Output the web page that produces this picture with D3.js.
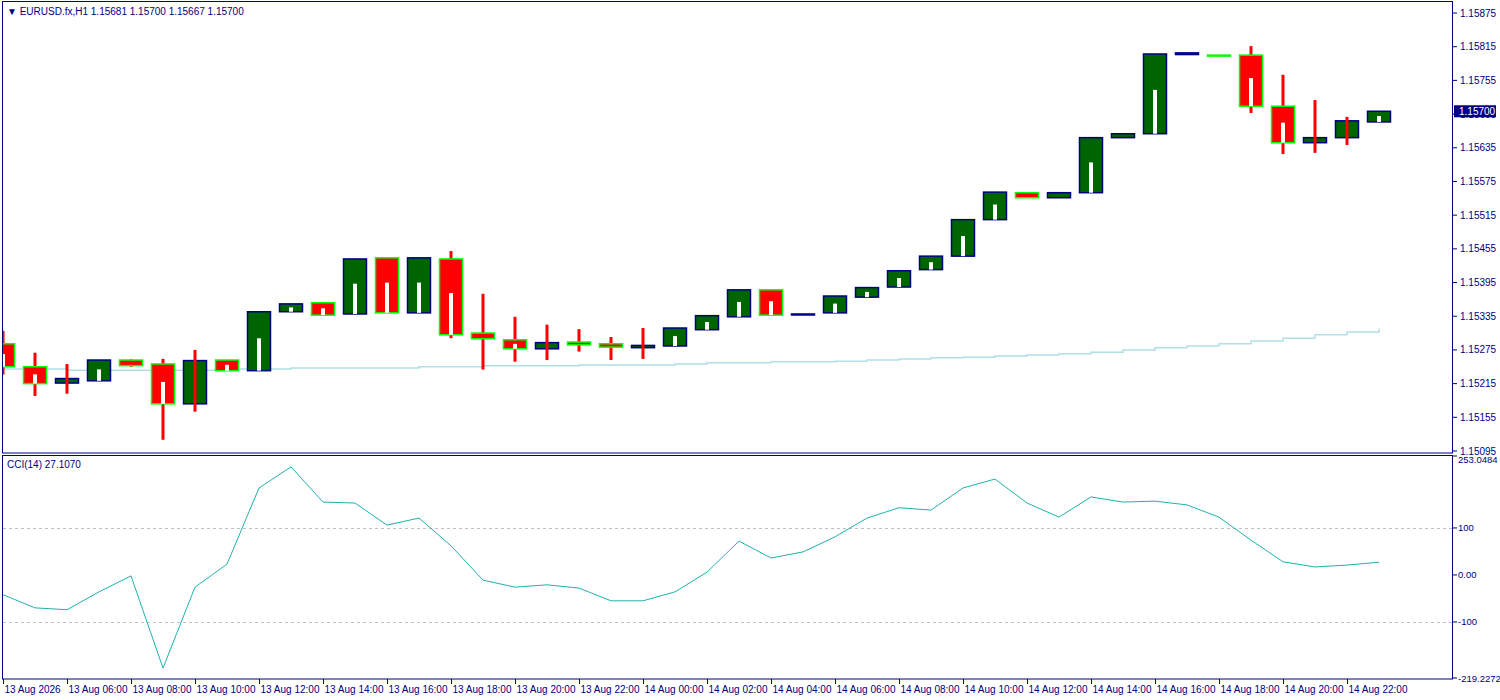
<!DOCTYPE html>
<html><head><meta charset="utf-8">
<script src="https://cdn.jsdelivr.net/npm/d3@7"></script>
<style>body{margin:0;background:#fff}svg text{font-family:"Liberation Sans",Arial,sans-serif;font-size:10px;fill:#000080}</style>
</head><body><svg id="c" width="1500" height="700"></svg>
<script>
const times=["13 Aug 04:00","13 Aug 05:00","13 Aug 06:00","13 Aug 07:00","13 Aug 08:00","13 Aug 09:00","13 Aug 10:00","13 Aug 11:00","13 Aug 12:00","13 Aug 13:00","13 Aug 14:00","13 Aug 15:00","13 Aug 16:00","13 Aug 17:00","13 Aug 18:00","13 Aug 19:00","13 Aug 20:00","13 Aug 21:00","13 Aug 22:00","13 Aug 23:00","14 Aug 00:00","14 Aug 01:00","14 Aug 02:00","14 Aug 03:00","14 Aug 04:00","14 Aug 05:00","14 Aug 06:00","14 Aug 07:00","14 Aug 08:00","14 Aug 09:00","14 Aug 10:00","14 Aug 11:00","14 Aug 12:00","14 Aug 13:00","14 Aug 14:00","14 Aug 15:00","14 Aug 16:00","14 Aug 17:00","14 Aug 18:00","14 Aug 19:00","14 Aug 20:00","14 Aug 21:00","14 Aug 22:00","14 Aug 23:00"];
const opens=[1.15286,1.15245,1.15216,1.15220,1.15257,1.15250,1.15179,1.15257,1.15238,1.15343,1.15359,1.15339,1.15439,1.15341,1.15437,1.15305,1.15293,1.15277,1.15289,1.15286,1.15279,1.15282,1.15311,1.15334,1.15382,1.15338,1.15341,1.15369,1.15387,1.15418,1.15442,1.15507,1.15555,1.15546,1.15555,1.15653,1.15660,1.15801,1.15800,1.15800,1.15709,1.15644,1.15653,1.15681];
const highs=[1.15309,1.15270,1.15250,1.15257,1.15258,1.15259,1.15275,1.15257,1.15343,1.15357,1.15359,1.15437,1.15439,1.15439,1.15451,1.15375,1.15334,1.15320,1.15312,1.15298,1.15314,1.15314,1.15336,1.15382,1.15382,1.15339,1.15371,1.15386,1.15416,1.15442,1.15507,1.15556,1.15555,1.15555,1.15653,1.15660,1.15802,1.15804,1.15800,1.15816,1.15765,1.15720,1.15690,1.15700];
const lows=[1.15231,1.15193,1.15197,1.15220,1.15245,1.15115,1.15165,1.15238,1.15238,1.15343,1.15337,1.15339,1.15341,1.15341,1.15296,1.15240,1.15254,1.15257,1.15272,1.15257,1.15259,1.15282,1.15311,1.15334,1.15337,1.15337,1.15341,1.15369,1.15387,1.15418,1.15442,1.15507,1.15546,1.15546,1.15555,1.15653,1.15660,1.15801,1.15799,1.15697,1.15624,1.15626,1.15640,1.15678];
const closes=[1.15245,1.15215,1.15224,1.15257,1.15247,1.15179,1.15256,1.15238,1.15343,1.15357,1.15337,1.15437,1.15341,1.15439,1.15302,1.15295,1.15277,1.15288,1.15284,1.15280,1.15283,1.15314,1.15336,1.15382,1.15337,1.15339,1.15371,1.15386,1.15416,1.15442,1.15507,1.15556,1.15546,1.15555,1.15653,1.15660,1.15802,1.15804,1.15799,1.15709,1.15644,1.15653,1.15683,1.15700];
const maValues=[1.15241,1.15241,1.15239,1.15239,1.15239,1.15239,1.15239,1.15241,1.15241,1.15243,1.15243,1.15243,1.15243,1.15245,1.15245,1.15247,1.15247,1.15247,1.15248,1.15248,1.15248,1.15250,1.15252,1.15252,1.15254,1.15254,1.15255,1.15257,1.15259,1.15261,1.15262,1.15264,1.15266,1.15268,1.15271,1.15275,1.15279,1.15282,1.15286,1.15291,1.15296,1.15302,1.15307,1.15313];
const cciValues=[-42,-70,-74,-36,-2,-198,-26,23,185,230,155,153,106,121,62,-11,-26,-21,-28,-55,-55,-36,6,72,36,49,81,121,143,138,185,204,153,123,166,155,157,149,123,74,28,17,21,27.107];
const priceTicks=[1.15095,1.15155,1.15215,1.15275,1.15335,1.15395,1.15455,1.15515,1.15575,1.15635,1.15695,1.15755,1.15815,1.15875];
const cciTicks=[[253.0484,"253.0484"],[100,"100"],[0,"0.00"],[-100,"-100"],[-219.2272,"-219.2272"]];
const dateLabels=["13 Aug 2026","13 Aug 06:00","13 Aug 08:00","13 Aug 10:00","13 Aug 12:00","13 Aug 14:00","13 Aug 16:00","13 Aug 18:00","13 Aug 20:00","13 Aug 22:00","14 Aug 00:00","14 Aug 02:00","14 Aug 04:00","14 Aug 06:00","14 Aug 08:00","14 Aug 10:00","14 Aug 12:00","14 Aug 14:00","14 Aug 16:00","14 Aug 18:00","14 Aug 20:00","14 Aug 22:00"];

const svg=d3.select("#c");
const navy="#000080";
const x=d3.scaleLinear().domain([0,43]).range([3,1379]);
const y=d3.scaleLinear().domain([1.15095,1.15875]).range([451,13]);
const yc=d3.scaleLinear().domain([-219.2272,253.0484]).range([678,456]);
const defs=svg.append("defs");
defs.append("clipPath").attr("id","mp").append("rect").attr("x",3).attr("y",2).attr("width",1449).attr("height",450);
defs.append("clipPath").attr("id","cp").append("rect").attr("x",3).attr("y",456).attr("width",1449).attr("height",222);

const main=svg.append("g").attr("clip-path","url(#mp)");
main.append("path").datum(maValues).attr("fill","none").attr("stroke","#b0e0e6").attr("stroke-width",1.5)
 .attr("d",d3.line().x((d,i)=>x(i)).y(d=>y(d)).curve(d3.curveStepAfter));
d3.range(opens.length).forEach(i=>{
  const o=opens[i],c=closes[i],bull=c>=o;
  const top=y(Math.max(o,c)),bot=y(Math.min(o,c)),cx=x(i);
  const hasWick=(y(lows[i])-bot>2)||(top-y(highs[i])>2);
  const wick=()=>main.append("rect").attr("x",cx-1.5).attr("width",3).attr("y",y(highs[i])).attr("height",Math.max(1,y(lows[i])-y(highs[i]))).attr("fill","#ff0000");
  if(!bull) wick();
  const h=Math.max(bot-top,1);
  main.append("rect").attr("x",cx-11.5).attr("y",top).attr("width",23).attr("height",h)
    .attr("fill",bull?"#006400":"#ff0000").attr("stroke",bull?navy:"#00ff00").attr("stroke-width",1.5);
  if(bull&&hasWick){ wick(); }
  else if(h>6){
    main.append("rect").attr("x",cx-2).attr("width",4).attr("y",top+h*0.45).attr("height",h*0.55).attr("fill","#fff");
  }
});
svg.append("rect").attr("x",2.5).attr("y",1.5).attr("width",1450).attr("height",451.5).attr("fill","none").attr("stroke",navy);
svg.append("rect").attr("x",2.5).attr("y",455.5).attr("width",1450).attr("height",223.5).attr("fill","none").attr("stroke",navy);
svg.append("text").attr("x",7).attr("y",15).text("▼ EURUSD.fx,H1  1.15681 1.15700 1.15667 1.15700");
priceTicks.forEach(p=>{
  svg.append("line").attr("x1",1453).attr("x2",1457).attr("y1",y(p)).attr("y2",y(p)).attr("stroke",navy);
  svg.append("text").attr("x",1460).attr("y",y(p)+3.5).text(p.toFixed(5));
});
const last=closes[closes.length-1];
svg.append("rect").attr("x",1454).attr("y",y(last)-6).attr("width",42).attr("height",12).attr("fill",navy);
svg.append("text").attr("x",1459).attr("y",y(last)+3.5).text(last.toFixed(5)).style("fill","#fff");
const cg=svg.append("g").attr("clip-path","url(#cp)");
[100,-100].forEach(v=>cg.append("line").attr("x1",3).attr("x2",1452).attr("y1",Math.round(yc(v))+0.5).attr("y2",Math.round(yc(v))+0.5).attr("stroke","#c0c0c0").attr("stroke-dasharray","3,3"));
cg.append("path").datum(cciValues).attr("fill","none").attr("stroke","#20b2aa").attr("stroke-width",1)
 .attr("d",d3.line().x((d,i)=>x(i)).y(d=>yc(d)));
svg.append("text").attr("x",7).attr("y",468).text("CCI(14) 27.1070");
cciTicks.forEach(([v,l])=>{
  svg.append("line").attr("x1",1453).attr("x2",1457).attr("y1",yc(v)).attr("y2",yc(v)).attr("stroke",navy);
  svg.append("text").attr("x",1458).attr("y",yc(v)+(v>250?7:3.5)).text(l).style("font-size","9.5px");
});
dateLabels.forEach((l,k)=>{
  const xx=Math.round(x(k*2))+0.5;
  svg.append("line").attr("x1",xx).attr("x2",xx).attr("y1",679).attr("y2",684).attr("stroke",navy);
  svg.append("text").attr("x",xx+1).attr("y",693).text(l);
});
</script></body></html>
